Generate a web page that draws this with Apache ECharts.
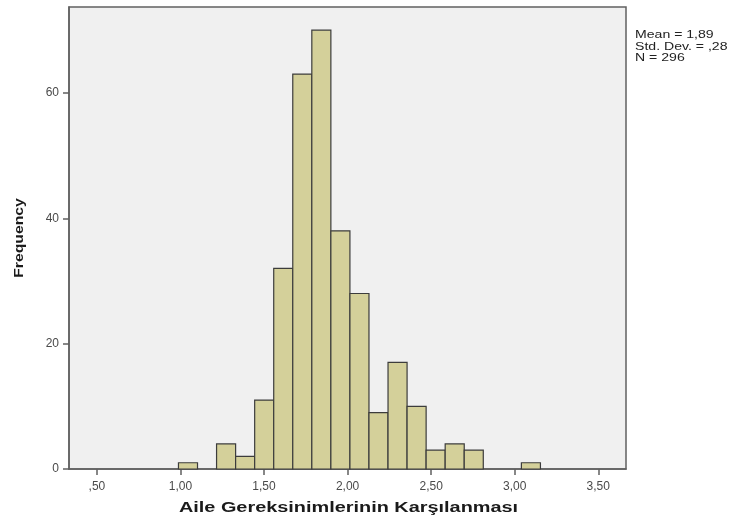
<!DOCTYPE html>
<html>
<head>
<meta charset="utf-8">
<script src="https://cdn.jsdelivr.net/npm/echarts@6/dist/echarts.min.js"></script>
<style>
html,body{margin:0;padding:0;background:#fff;}
#chart{width:732px;height:521px;}
</style>
</head>
<body>
<div id="chart"></div>
<script>
// Bin edges and frequencies
const binEdges = [0.988, 1.102, 1.216, 1.330, 1.444, 1.558, 1.672, 1.786, 1.900, 2.014, 2.128, 2.242, 2.356, 2.470, 2.584, 2.698, 2.812, 2.926, 3.040, 3.154];
const counts   = [1, 0, 4, 2, 11, 32, 63, 70, 38, 28, 9, 17, 10, 3, 4, 3, 0, 0, 1];
const xTickValues = [0.5, 1.0, 1.5, 2.0, 2.5, 3.0, 3.5];
const yTickValues = [0, 20, 40, 60];
const statsLines = ['Mean = 1,89', 'Std. Dev. = ,28', 'N = 296'];
const xTitle = 'Aile Gereksinimlerinin Karşılanması';
const yTitle = 'Frequency';

const data = [];
for (let i = 0; i < counts.length; i++) {
  if (counts[i] > 0) data.push([binEdges[i], binEdges[i + 1], counts[i]]);
}

function fmtX(v) {
  let s = Number(v).toFixed(2).replace('.', ',');
  if (s.startsWith('0,')) s = s.slice(1);
  return s;
}

const chart = echarts.init(document.getElementById('chart'), null, {renderer: 'canvas'});
const font = '"Liberation Sans", Arial, sans-serif';
chart.setOption({
  animation: false,
  backgroundColor: '#ffffff',
  grid: {
    left: 69, right: 106, top: 7, bottom: 52,
    containLabel: false,
    outerBoundsMode: 'none',
    show: true, backgroundColor: '#f0f0f0', borderColor: '#606060', borderWidth: 1.5
  },
  xAxis: {
    type: 'value',
    min: 0.333, max: 3.666,
    axisLine: {show: true, lineStyle: {color: '#606060', width: 1.5}},
    axisTick: {show: true, customValues: xTickValues, length: 6, lineStyle: {color: '#606060', width: 1.5}},
    axisLabel: {customValues: xTickValues, formatter: fmtX, fontFamily: font, fontSize: 12, color: '#4a4a4a', margin: 12},
    splitLine: {show: false}
  },
  yAxis: {
    type: 'value',
    min: 0, max: 73.7,
    axisLine: {show: true, lineStyle: {color: '#606060', width: 1.5}},
    axisTick: {show: true, customValues: yTickValues, length: 6, lineStyle: {color: '#606060', width: 1.5}},
    axisLabel: {customValues: yTickValues, fontFamily: font, fontSize: 12, color: '#4a4a4a', margin: 10},
    splitLine: {show: false}
  },
  series: [{
    type: 'custom',
    data: data,
    encode: {x: [0, 1], y: 2},
    renderItem: function (params, api) {
      const lo = api.value(0), hi = api.value(1), c = api.value(2);
      const p0 = api.coord([lo, c]);
      const p1 = api.coord([hi, 0]);
      return {
        type: 'rect',
        shape: {x: p0[0], y: p0[1], width: p1[0] - p0[0], height: p1[1] - p0[1]},
        style: {fill: '#d4d09a', stroke: '#3c3c3c', lineWidth: 1.2}
      };
    }
  }],
  graphic: [{
    type: 'text',
    x: 348.5, y: 508.5,
    scaleX: 1.42,
    style: {
      text: xTitle, fontFamily: font, fontWeight: 'bold', fontSize: 14, fill: '#1a1a1a',
      textAlign: 'center', textVerticalAlign: 'middle'
    }
  }, {
    type: 'text',
    x: 19.5, y: 238,
    rotation: Math.PI / 2,
    scaleX: 1.21,
    style: {
      text: yTitle, fontFamily: font, fontWeight: 'bold', fontSize: 13, fill: '#1a1a1a',
      textAlign: 'center', textVerticalAlign: 'middle'
    }
  }, {
    type: 'text',
    x: 635, y: 29.5,
    scaleX: 1.28,
    style: {
      text: statsLines.join('\n'),
      fontFamily: font, fontSize: 11, lineHeight: 11.5, fill: '#222'
    }
  }]
});
</script>
</body>
</html>
